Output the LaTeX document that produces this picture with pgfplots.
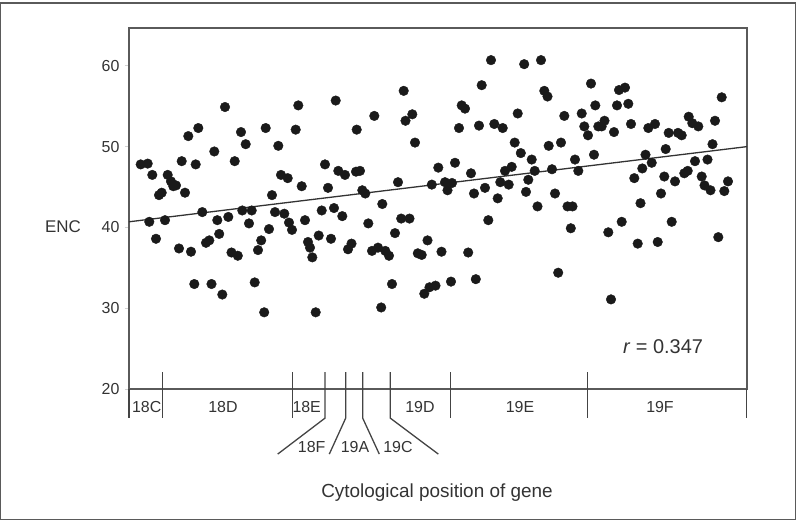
\documentclass[border=0pt]{standalone}
\usepackage{fontspec}
\setmainfont{Liberation Sans}
\usepackage{pgfplots}
\pgfplotsset{compat=1.18}
\definecolor{boxgray}{HTML}{5A5A5A}
\definecolor{sepgray}{HTML}{444444}
\definecolor{dot}{HTML}{1A1A1A}
\definecolor{txt}{HTML}{333333}

\begin{document}
\begin{tikzpicture}
\begin{axis}[
  scale only axis, width=618bp, height=361.3bp,
  xmin=129, xmax=747, ymin=20, ymax=64.7,
  axis line style={boxgray, line width=1.8bp},
  xtick=\empty,
  ytick={20,30,40,50,60},
  ytick pos=left, tick align=outside,
  major tick length=4bp,
  tick style={gray!35, line width=0.8bp},
  ticklabel style={font=\fontsize{16}{19}\selectfont, text=txt},
  yticklabel style={xshift=-2bp},
  /pgf/number format/assume math mode=true,
  clip=false,
]
% regression line
\addplot[no marks, line width=1.3bp, color=black!80] coordinates {(129,40.7) (747,50.0)};
% genes
\addplot[only marks, mark=*, mark size=4.8bp, mark options={fill=dot, draw=dot}] coordinates {
(140.7,47.8) (147.7,47.9) (152.3,46.5) (159,44.0) (161.7,44.3) (167.7,46.5) (171,45.7)
(173.3,45.1) (176,45.2) (181.7,48.2) (185,44.3) (188.3,51.3) (198.3,52.3) (195.7,47.8)
(202.3,41.9) (214.3,49.4) (225,54.9) (234.7,48.2) (241,51.8) (245.7,50.3) (242.3,42.1)
(251.7,42.1) (265.7,52.3) (272,44.0) (278.3,50.1) (281,46.5) (287.7,46.1) (275,41.9)
(284.3,41.7) (298.3,55.1) (295.7,52.1) (301.7,45.1) (321.7,42.1) (325,47.8) (328,44.9)
(334,42.4) (335.7,55.7) (338.3,47.0) (345,46.5) (356.7,52.1) (356,46.9) (360,47.0)
(362.3,44.6) (365.3,44.2) (374.3,53.8) (382.3,42.9) (398,45.6) (403.7,56.9) (405.5,53.2)
(412.3,54.0) (415,50.5) (431.8,45.3) (438.3,47.4) (445,45.6) (447.5,44.6) (452,45.5)
(455,48.0) (459,52.3) (461.7,55.1) (465,54.7) (471,46.7) (474,44.2) (479,52.6)
(481.7,57.6) (485,44.9) (491,60.7) (494.3,52.8) (497.7,43.6) (500.3,45.6) (502.7,52.3)
(505,47.0) (508.7,45.3) (511.7,47.5) (514.7,50.5) (517.7,54.1) (520.8,49.2) (524.2,60.2)
(526,44.4) (528.3,45.9) (531.7,48.4) (534.7,47.0) (537.5,42.6) (541,60.7) (544.3,56.9)
(547.5,56.2) (548.7,50.1) (552,47.2) (555,44.2) (561,50.5) (564.3,53.8) (567.5,42.6)
(572.5,42.6) (575,48.4) (578.3,47.0) (581.7,54.1) (584.3,52.5) (588,51.4) (591,57.8)
(594,49.0) (595.3,55.1) (598.3,52.5) (601.7,52.5) (604.5,53.2) (614,51.8) (617,55.1)
(619,57.0) (625,57.3) (628.3,55.3) (631,52.8) (634.3,46.1) (640.5,43.0) (642.3,47.3)
(645.5,49.0) (648.3,52.3) (651.7,48.0) (655,52.8) (661,44.2) (664.3,46.3) (665.7,49.7)
(668.7,51.7) (675,45.7) (678,51.7) (681.7,51.4) (684.3,46.7) (687.7,47.0) (688.7,53.7)
(692.3,52.9) (698.3,52.5) (695,48.2) (701.7,46.3) (704.5,45.2) (710.5,44.6) (707.5,48.4)
(712.5,50.3) (715,53.2) (721.7,56.1) (724.3,44.5) (728,45.7)
(149.3,40.7) (156,38.6) (165,40.9) (179,37.4) (191,37.0) (194.3,33.0) (206,38.1)
(209.3,38.4) (211.5,33.0) (217.3,40.9) (219.2,39.2) (222.3,31.7) (228.3,41.3) (231.5,36.9)
(237.8,36.5) (249,40.5) (254.7,33.2) (258,37.2) (261.2,38.4) (264.2,29.5) (269,39.8)
(289,40.6) (292,39.7) (305,40.9) (308,38.2) (310,37.5) (312.3,36.3) (315.7,29.5)
(318.7,39.0) (331,38.6) (342.3,41.4) (348,37.3) (351.5,38.0) (368.3,40.5) (372,37.1)
(378,37.5) (385.3,37.1) (389,36.5) (381.2,30.1) (392,33.0) (395,39.3) (401.2,41.1)
(409.5,41.1) (417.8,36.8) (421.7,36.6) (427.5,38.4) (424.3,31.8) (429.5,32.6) (435.5,32.8)
(441.5,37.0) (451,33.3) (468.2,36.9) (475.8,33.6) (488.3,40.9) (558.2,34.4) (570.8,39.9)
(608.3,39.4) (611,31.1) (621.7,40.7) (637.7,38.0) (657.7,38.2) (671.7,40.7) (718.3,38.8)
};
\node[font=\fontsize{20}{24}\selectfont, text=txt] at (axis cs:663,25.2) {\textit{r} = 0.347};
% outer frame and page corners
\draw[boxgray, line width=1.2bp] (axis cs:0.6,3.86) rectangle (axis cs:795.4,67.77);
\coordinate (bbsw) at (axis cs:0,3.79);
\coordinate (bbne) at (axis cs:796,68.14);
% cytological divisions
\draw[sepgray, line width=1.3bp] (axis cs:129,20) -- (axis cs:129,16.41);
\draw[sepgray, line width=1.3bp] (axis cs:746.5,20) -- (axis cs:746.5,16.41);
\draw[sepgray, line width=1.3bp] (axis cs:162.7,22.1) -- (axis cs:162.7,16.41);
\draw[sepgray, line width=1.3bp] (axis cs:292.3,22.1) -- (axis cs:292.3,16.41);
\draw[sepgray, line width=1.3bp] (axis cs:450.7,22.1) -- (axis cs:450.7,16.41);
\draw[sepgray, line width=1.3bp] (axis cs:587.7,22.1) -- (axis cs:587.7,16.41);
\draw[sepgray, line width=1.3bp] (axis cs:325,22.1) -- (axis cs:325,16.41) -- (axis cs:277.7,11.96);
\draw[sepgray, line width=1.3bp] (axis cs:345.7,22.1) -- (axis cs:345.7,16.41) -- (axis cs:329.3,11.96);
\draw[sepgray, line width=1.3bp] (axis cs:362.7,22.1) -- (axis cs:362.7,16.41) -- (axis cs:379.3,11.96);
\draw[sepgray, line width=1.3bp] (axis cs:390.3,22.1) -- (axis cs:390.3,16.41) -- (axis cs:438.3,11.96);
\node[font=\fontsize{16}{19}\selectfont, text=txt] at (axis cs:146.7,17.77) {18C};
\node[font=\fontsize{16}{19}\selectfont, text=txt] at (axis cs:223,17.77) {18D};
\node[font=\fontsize{16}{19}\selectfont, text=txt] at (axis cs:306.7,17.77) {18E};
\node[font=\fontsize{16}{19}\selectfont, text=txt] at (axis cs:420,17.77) {19D};
\node[font=\fontsize{16}{19}\selectfont, text=txt] at (axis cs:520,17.77) {19E};
\node[font=\fontsize{16}{19}\selectfont, text=txt] at (axis cs:660,17.77) {19F};
\node[font=\fontsize{16}{19}\selectfont, text=txt] at (axis cs:311.7,12.82) {18F};
\node[font=\fontsize{16}{19}\selectfont, text=txt] at (axis cs:355,12.82) {19A};
\node[font=\fontsize{16}{19}\selectfont, text=txt] at (axis cs:398,12.82) {19C};
\node[font=\fontsize{17}{20}\selectfont, text=txt] at (axis cs:63,40.05) {ENC};
\node[font=\fontsize{19}{23}\selectfont, text=txt] at (axis cs:437,7.25) {Cytological position of gene};
\end{axis}
\pgfresetboundingbox
\useasboundingbox (bbsw) rectangle (bbne);
\end{tikzpicture}
\end{document}
